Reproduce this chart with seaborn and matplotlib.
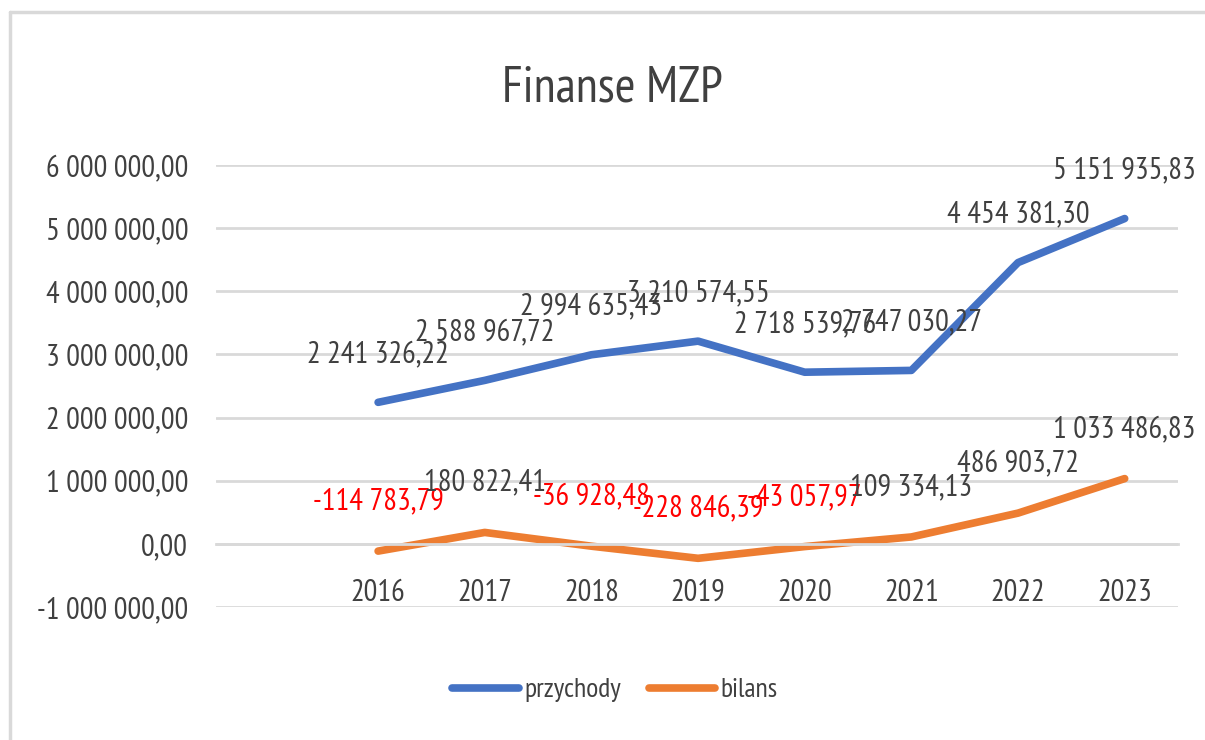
import matplotlib
matplotlib.use("Agg")
import matplotlib.pyplot as plt
from matplotlib import font_manager
from matplotlib.lines import Line2D
import seaborn as sns
import pandas as pd

years = ["2016", "2017", "2018", "2019", "2020", "2021", "2022", "2023"]
przychody = [2241326.22, 2588967.72, 2994635.43, 3210574.55, 2718539.76, 2747030.27, 4454381.30, 5151935.83]
bilans = [-114783.79, 180822.41, -36928.48, -228846.39, -43057.97, 109334.13, 486903.72, 1033486.83]
series_names = ["przychody", "bilans"]
yticks = [-1000000, 0, 1000000, 2000000, 3000000, 4000000, 5000000, 6000000]
title = "Finanse MZP"

sns.set_theme(style="white")
names = {f.name for f in font_manager.fontManager.ttflist}
main_font = "DejaVu Sans"
for cand in ["PT Sans Narrow", "Archivo Narrow", "Roboto Condensed", "Liberation Sans Narrow"]:
    if cand in names:
        main_font = cand
        break
plt.rcParams["font.family"] = [main_font, "DejaVu Sans"]

def fmt(v):
    s = f"{abs(v):,.2f}".replace(",", " ").replace(".", ",")
    return ("-" if v < 0 else "") + s

pos = list(range(len(years)))
df = pd.DataFrame({
    "pos": pos * 2,
    "value": przychody + bilans,
    "series": [series_names[0]] * len(years) + [series_names[1]] * len(years),
})

colors = {"przychody": "#4472C4", "bilans": "#ED7D31"}
txt = "#404040"
grid_c = "#D9D9D9"
fs = 22

fig = plt.figure(figsize=(12.05, 7.4), dpi=100)
ax = fig.add_axes([216 / 1205, (740 - 607) / 740, (1178 - 216) / 1205, (607 - 165) / 740])

sns.lineplot(data=df, x="pos", y="value", hue="series", palette=colors,
             linewidth=5.5, ax=ax, legend=False, sort=False)
for line in ax.lines:
    line.set_solid_capstyle("round")
    line.set_solid_joinstyle("round")

for s in ["top", "right", "left"]:
    ax.spines[s].set_visible(False)
ax.spines["bottom"].set_position(("data", 0))
ax.spines["bottom"].set_color(grid_c)
ax.spines["bottom"].set_linewidth(2)

ax.set_xlim(-1.52, 7.5)
ax.set_ylim(-1000000, 6000000)
ax.set_yticks(yticks)
ax.set_yticklabels([fmt(v) for v in yticks], fontsize=fs, color=txt)
ax.set_xticks(pos)
ax.set_xticklabels(years, fontsize=fs, color=txt)
ax.tick_params(axis="y", length=0, pad=20)
ax.tick_params(axis="x", length=0, pad=25)
ax.set_xlabel("")
ax.set_ylabel("")
ax.yaxis.grid(True, color=grid_c, linewidth=2)
ax.xaxis.grid(False)

for i, v in enumerate(przychody):
    ax.annotate(fmt(v), (i, v), xytext=(0, 29), textcoords="offset points",
                ha="center", va="baseline", fontsize=fs, color=txt, annotation_clip=False)
for i, v in enumerate(bilans):
    ax.annotate(fmt(v), (i, v), xytext=(0, 30), textcoords="offset points",
                ha="center", va="baseline", fontsize=fs,
                color="#FF0000" if v < 0 else txt, annotation_clip=False)

fig.text(612 / 1205, 1 - 88 / 740, title, ha="center", va="center", fontsize=36, color=txt)

handles = [Line2D([0], [0], color=colors[n], linewidth=5.5, solid_capstyle="round") for n in series_names]
fig.legend(handles, series_names, loc="center", bbox_to_anchor=(615 / 1205, 1 - 690 / 740),
           ncol=2, frameon=False, fontsize=20, handlelength=2.4, handletextpad=0.2,
           columnspacing=1.0, labelcolor=txt)

fig.add_artist(Line2D([10 / 1205, 1], [1 - 12 / 740, 1 - 12 / 740], color=grid_c, linewidth=2.5,
                      transform=fig.transFigure))
fig.add_artist(Line2D([10 / 1205, 10 / 1205], [0, 1 - 12 / 740], color=grid_c, linewidth=2.5,
                      transform=fig.transFigure))

fig.savefig("out.png", dpi=100, facecolor="white")
